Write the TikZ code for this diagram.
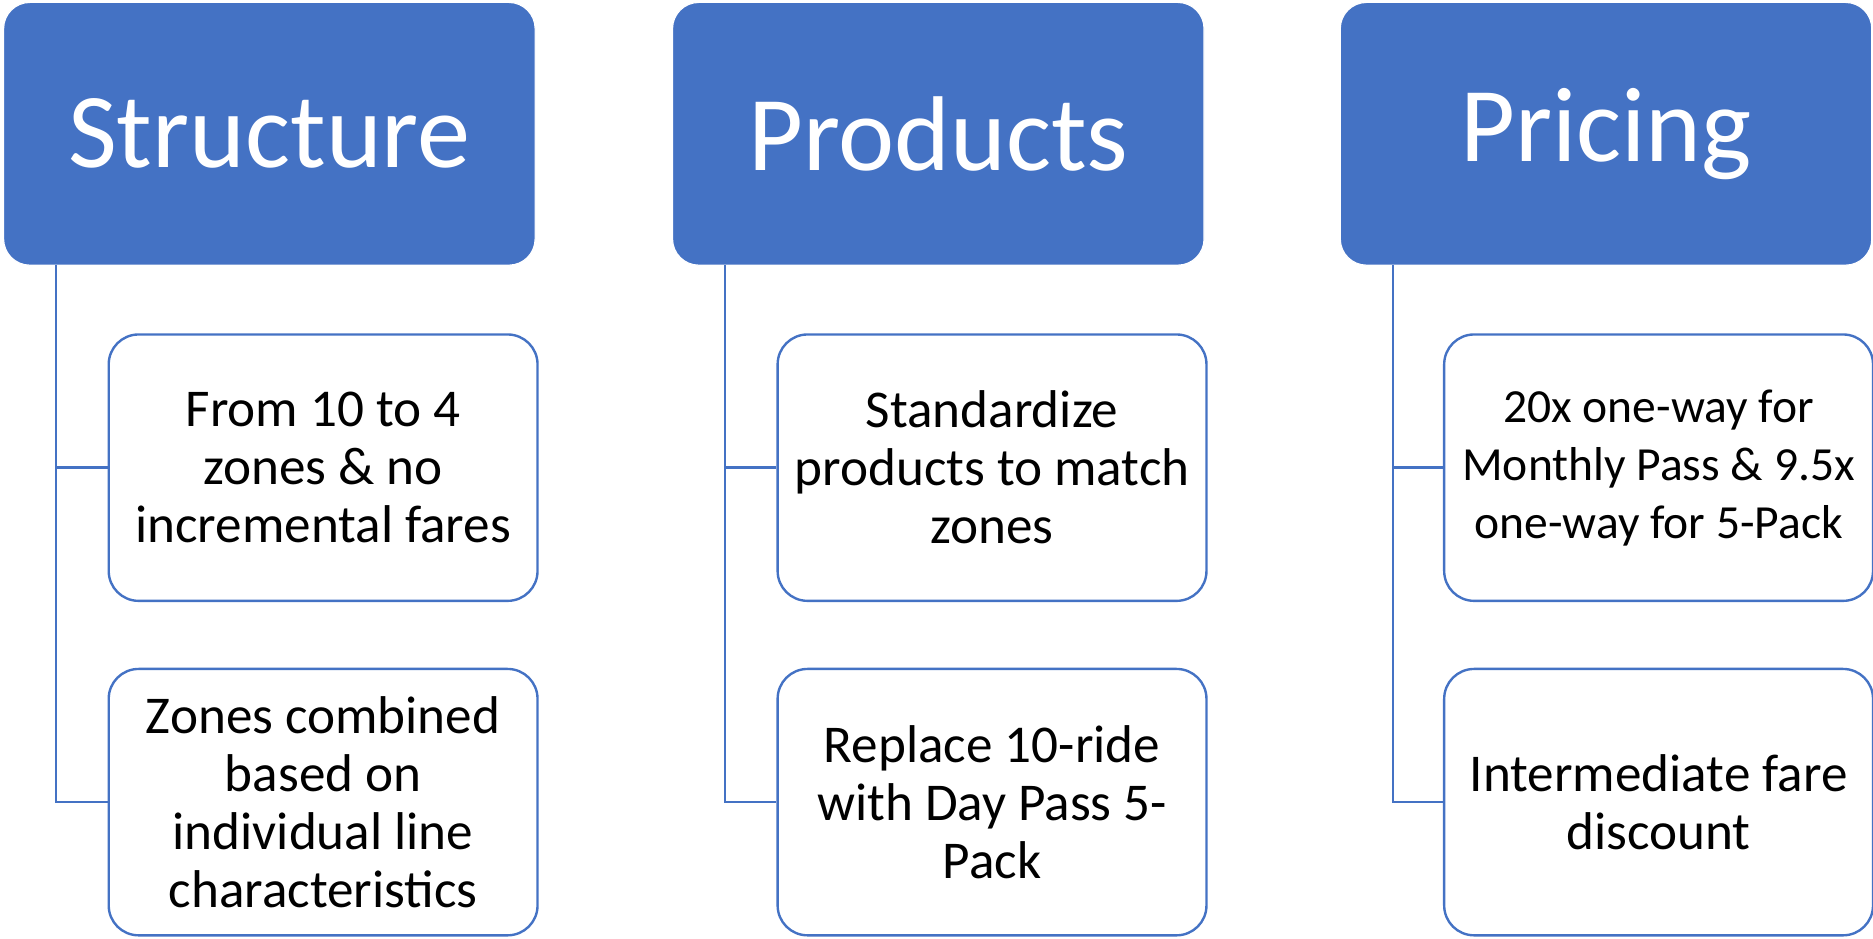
\documentclass[tikz,border=0pt]{standalone}
\usepackage{fontspec}
\setmainfont{Carlito}
\definecolor{officeblue}{HTML}{4472C4}
\tikzset{
  hdr/.style={fill=officeblue, draw=white, line width=1pt, rounded corners=22pt,
    minimum width=445pt, minimum height=220pt, inner sep=0pt, text=white,
    font=\fontsize{89}{100}\selectfont},
  sub/.style={fill=white, draw=officeblue, line width=2pt, rounded corners=25pt,
    minimum width=359pt, minimum height=223pt, inner sep=0pt, align=center,
    text=black, font=\fontsize{44.5}{48.5}\selectfont},
  subsmall/.style={sub, font=\fontsize{39.8}{48.5}\selectfont},
  conn/.style={draw=officeblue, line width=2pt}
}
\begin{document}
\begin{tikzpicture}[x=1pt,y=-1pt]
\useasboundingbox (0,0) rectangle (1568,785.3);
% Structure column
\node[hdr] (h1) at (225.5,112) {Structure};
\node[sub] (a1) at (270.5,391.5) {From 10 to 4\\zones \& no\\incremental fares};
\node[sub] (b1) at (270.5,671.5) {Zones combined\\based on\\individual line\\characteristics};
\coordinate (s1) at (47,222);
\draw[conn] (s1) |- (a1.west);
\draw[conn] (s1) |- (b1.west);
% Products column
\node[hdr] (h2) at (785.5,112) {Products};
\node[sub] (a2) at (830.5,391.5) {Standardize\\products to match\\zones};
\node[sub] (b2) at (830.5,671.5) {Replace 10-ride\\with Day Pass 5-\\Pack};
\coordinate (s2) at (607,222);
\draw[conn] (s2) |- (a2.west);
\draw[conn] (s2) |- (b2.west);
% Pricing column
\node[hdr] (h3) at (1344.5,112) {Pricing};
\node[subsmall] (a3) at (1388.5,391.5) {20x one-way for\\Monthly Pass \& 9.5x\\one-way for 5-Pack};
\node[sub] (b3) at (1388.5,671.5) {Intermediate fare\\discount};
\coordinate (s3) at (1166,222);
\draw[conn] (s3) |- (a3.west);
\draw[conn] (s3) |- (b3.west);
\end{tikzpicture}
\end{document}
